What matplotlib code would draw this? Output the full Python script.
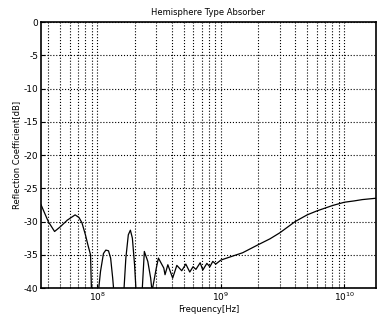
import numpy as np
import matplotlib
matplotlib.use("Agg")
import matplotlib.pyplot as plt
import matplotlib.ticker as mticker

# values (frequency in Hz, reflection in dB)
freq_hz = [3.5e7, 4.0e7, 4.5e7, 5.0e7, 5.7e7, 6.6e7, 7.1e7, 7.5e7,
           8.0e7, 8.4e7, 8.8e7, 9.0e7,
           1.0e8, 1.06e8, 1.12e8, 1.17e8, 1.23e8, 1.28e8, 1.33e8, 1.38e8,
           1.62e8, 1.7e8, 1.78e8, 1.85e8, 1.92e8, 2.0e8, 2.08e8,
           2.28e8, 2.4e8, 2.56e8, 2.7e8, 2.77e8, 3.0e8, 3.12e8,
           3.45e8, 3.53e8, 3.72e8, 4.07e8, 4.4e8, 4.82e8, 5.2e8,
           5.6e8, 5.95e8, 6.28e8, 6.8e8, 7.14e8, 7.7e8, 8.15e8,
           8.6e8, 9.1e8, 1.0e9,
           1.2e9, 1.5e9, 2.0e9, 2.5e9, 3.0e9, 4.0e9, 5.0e9, 6.0e9,
           8.0e9, 1.0e10, 1.2e10, 1.4e10, 1.8e10]
refl_db = [-27.5, -30.0, -31.5, -30.8, -29.8, -29.0, -29.4, -30.2,
           -32.0, -33.6, -35.0, -42,
           -42, -37.5, -34.8, -34.3, -34.4, -35.5, -38.5, -42,
           -42, -35.5, -32.0, -31.3, -32.5, -36.5, -42,
           -42, -34.5, -36.0, -38.5, -40.5, -37.0, -35.5,
           -37.0, -38.0, -36.5, -38.5, -36.6, -37.4, -36.4,
           -37.6, -36.8, -37.2, -36.2, -37.3, -36.3, -36.8,
           -36.0, -36.4, -35.8,
           -35.3, -34.7, -33.5, -32.6, -31.7, -30.0, -29.0, -28.4,
           -27.6, -27.1, -26.9, -26.7, -26.5]

yticks = [0, -5, -10, -15, -20, -25, -30, -35, -40]

fig = plt.figure(figsize=(3.77, 3.2), dpi=100)
ax = fig.add_axes([0.109, 0.1, 0.888, 0.831])

ax.semilogx(freq_hz, refl_db, color="black", linewidth=0.9)
ax.set_xlim(3.5e7, 1.8e10)
ax.set_ylim(-40, 0)
ax.set_yticks(yticks)
ax.set_yticklabels([str(t) for t in yticks])

ax.xaxis.set_major_locator(mticker.LogLocator(base=10, numticks=10))
ax.xaxis.set_minor_locator(mticker.LogLocator(base=10, subs=np.arange(2, 10), numticks=20))
ax.xaxis.set_minor_formatter(mticker.NullFormatter())

ax.grid(True, which="major", color="black", linestyle=":", linewidth=0.8)
ax.grid(True, which="minor", axis="x", color="black", linestyle=":", linewidth=0.8)

ax.tick_params(labelsize=6.5, direction="in", length=3, pad=2)
ax.tick_params(which="minor", direction="in", length=1.5)
for sp in ax.spines.values():
    sp.set_linewidth(1.2)

ax.set_title("Hemisphere Type Absorber", fontsize=6, pad=5)
ax.set_xlabel("Frequency[Hz]", fontsize=6, labelpad=1)
ax.set_ylabel("Reflection Coefficient[dB]", fontsize=6, labelpad=2)

fig.savefig("out.png", dpi=100)
